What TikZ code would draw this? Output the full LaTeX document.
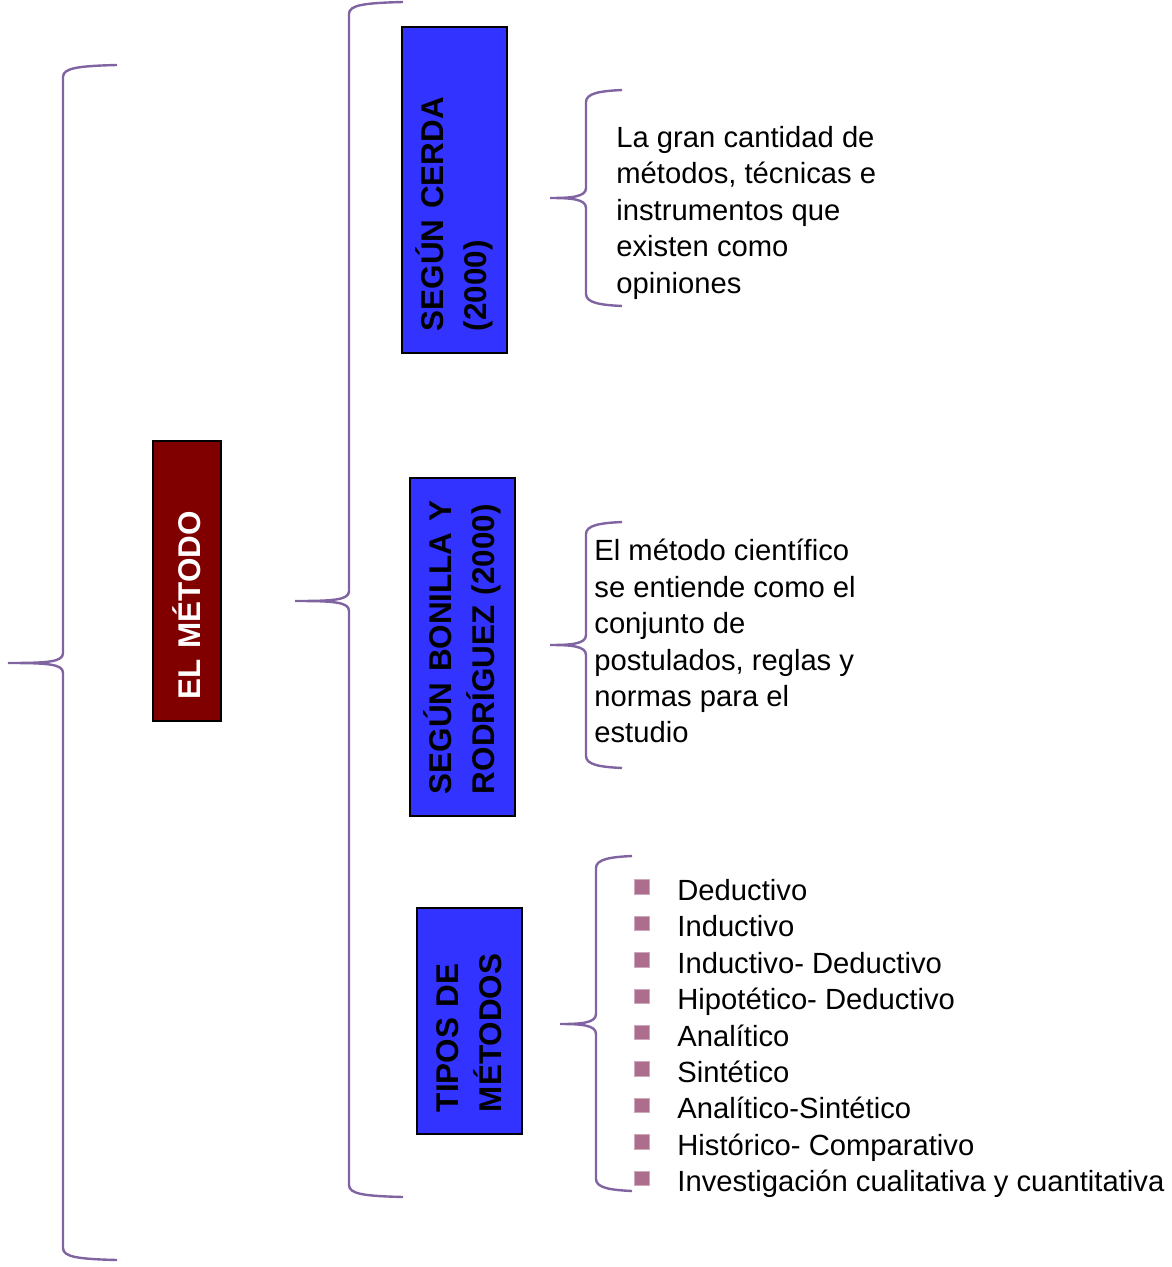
\documentclass[tikz,border=0pt]{standalone}
\usepackage{fontspec}
\setmainfont{Liberation Sans}
\usepackage{tikz}
\definecolor{darkred}{RGB}{128,0,0}
\definecolor{boxblue}{RGB}{51,51,255}
\definecolor{bracepurple}{RGB}{128,100,162}
\definecolor{bulletmauve}{RGB}{172,110,140}
\tikzstyle{box}=[draw=black,line width=1pt,rotate=90,align=left,inner xsep=11pt,inner ysep=0pt,font=\fontsize{15.7}{21.5}\selectfont\bfseries]
\tikzstyle{redbox}=[box,fill=darkred,text=white,minimum height=34pt]
\tikzstyle{bluebox}=[box,fill=boxblue,text=black,minimum height=52.5pt]
\tikzstyle{brace}=[draw=bracepurple,line width=1.2pt]
\tikzstyle{bodytext}=[anchor=north west,align=left,inner sep=0pt,font=\fontsize{14.6}{18.2}\selectfont]
\tikzstyle{item}=[anchor=base west,inner sep=0pt,font=\fontsize{14.6}{18.2}\selectfont]
\tikzstyle{bullet}=[rectangle,fill=bulletmauve,draw=bulletmauve!60,line width=0.4pt,minimum size=7.2pt,inner sep=0pt]
\newcommand{\pxunit}{0.5pt}
% hook x, line x, tip x, top y, tip y, bottom y
\newcommand{\metbrace}[6]{%
  \draw[brace] (#1,#4) .. controls (#2+15,#4+1) and (#2,#4+3) .. (#2,#4+12)
    -- (#2,#5-10) .. controls (#2,#5-1) and (#2-15,#5) .. (#3,#5)
    .. controls (#2-15,#5) and (#2,#5+1) .. (#2,#5+10)
    -- (#2,#6-12) .. controls (#2,#6-3) and (#2+15,#6-1) .. (#1,#6);}

\begin{document}
\begin{tikzpicture}[x=\pxunit,y=-\pxunit]
    \useasboundingbox (0,0) rectangle (1171,1267);
    \metbrace{117}{63}{8}{65}{663}{1260}
    \metbrace{403}{349}{295}{2}{601}{1197}
    \metbrace{622}{586}{550}{90}{198}{306}
    \metbrace{622}{586}{550}{522}{645}{768}
    \metbrace{632}{596}{560}{856}{1024}{1191}
    \node[redbox,minimum width=140pt,text width=118pt] (metodo) at (187,581) {EL MÉTODO};
    \node[bluebox,minimum width=163pt,text width=141pt] (cerda) at (454.5,190) {SEGÚN CERDA\\(2000)};
    \node[bluebox,minimum width=169pt,text width=147pt] (bonilla) at (462.5,647) {SEGÚN BONILLA Y\\RODRÍGUEZ (2000)};
    \node[bluebox,minimum width=113pt,text width=91pt] (tipos) at (469.5,1021) {TIPOS DE\\MÉTODOS};
    \node[bodytext] (cerdatxt) at (616,126) {La gran cantidad de\\métodos, técnicas e\\instrumentos que\\existen como\\opiniones};
    \node[bodytext] (bonillatxt) at (594,539) {El método científico\\se entiende como el\\conjunto de\\postulados, reglas y\\normas para el\\estudio};
    \node[bullet] (b1) at (642,887)    {};
    \node[bullet] (b2) at (642,923.4)  {};
    \node[bullet] (b3) at (642,959.8)  {};
    \node[bullet] (b4) at (642,996.2)  {};
    \node[bullet] (b5) at (642,1032.6) {};
    \node[bullet] (b6) at (642,1069)   {};
    \node[bullet] (b7) at (642,1105.4) {};
    \node[bullet] (b8) at (642,1141.8) {};
    \node[bullet] (b9) at (642,1178.2) {};
    \node[item] (d1) at (677,900.5)  {Deductivo};
    \node[item] (d2) at (677,936.9)  {Inductivo};
    \node[item] (d3) at (677,973.3)  {Inductivo- Deductivo};
    \node[item] (d4) at (677,1009.7) {Hipotético- Deductivo};
    \node[item] (d5) at (677,1046.1) {Analítico};
    \node[item] (d6) at (677,1082.5) {Sintético};
    \node[item] (d7) at (677,1118.9) {Analítico-Sintético};
    \node[item] (d8) at (677,1155.3) {Histórico- Comparativo};
    \node[item] (d9) at (677,1191.7) {Investigación cualitativa y cuantitativa};
\end{tikzpicture}
\end{document}
